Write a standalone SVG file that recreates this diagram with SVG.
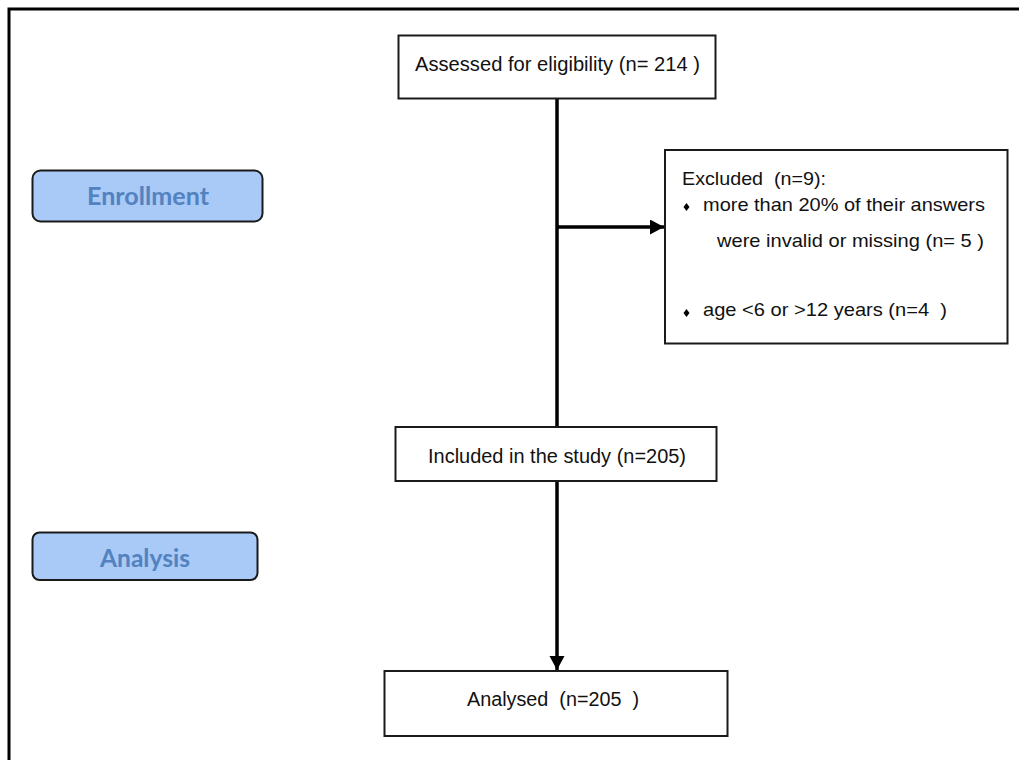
<svg xmlns="http://www.w3.org/2000/svg" width="1019" height="760" viewBox="0 0 1019 760">
  <defs>
    <style>
      .box { fill: #ffffff; stroke: #1a1a1a; stroke-width: 2; }
      .stage { fill: #a9c9f7; stroke: #1a1a1a; stroke-width: 2; }
      .t { font-family: "Liberation Sans", Arial, sans-serif; fill: #111111; }
      .st { font-family: Lato, "Open Sans", sans-serif; font-weight: bold; font-size: 24px; fill: #5282bf; text-anchor: middle; }
      .conn { fill: none; stroke: #000000; stroke-width: 3.5; }
      .bul { fill: #000000; }
    </style>
    <marker id="arrow" markerUnits="userSpaceOnUse" markerWidth="16" markerHeight="16" refX="14" refY="7.5" orient="auto">
      <path d="M0,0 L14,7.5 L0,15 Z" fill="#000000"/>
    </marker>
  </defs>
  <rect width="1019" height="760" fill="#ffffff"/>
  <path d="M9,760 V9 H1019" fill="none" stroke="#000000" stroke-width="3"/>

  <g id="enrollment">
    <rect class="stage" x="32.5" y="170.5" width="230" height="51" rx="8"/>
    <text class="st" x="148" y="204.5" textLength="122" lengthAdjust="spacingAndGlyphs">Enrollment</text>
  </g>

  <g id="analysis">
    <rect class="stage" x="32.5" y="532.5" width="225" height="47.5" rx="7"/>
    <text class="st" x="145" y="567" textLength="90" lengthAdjust="spacingAndGlyphs">Analysis</text>
  </g>

  <g id="connectors">
    <line class="conn" x1="557" y1="98" x2="557" y2="427"/>
    <line class="conn" x1="557" y1="227" x2="664" y2="227" marker-end="url(#arrow)"/>
    <line class="conn" x1="557" y1="481" x2="557" y2="670" marker-end="url(#arrow)"/>
  </g>

  <g id="assessed">
    <rect class="box" x="398.5" y="35.5" width="317" height="63"/>
    <text class="t" x="415" y="71" font-size="19.5" textLength="285" lengthAdjust="spacingAndGlyphs">Assessed for eligibility (n= 214 )</text>
  </g>

  <g id="excluded">
    <rect class="box" x="665" y="150" width="342.5" height="193.5"/>
    <text class="t" x="682" y="185" font-size="19" xml:space="preserve" textLength="144" lengthAdjust="spacingAndGlyphs">Excluded  (n=9):</text>
    <polygon class="bul" points="686.5,203 689.5,207 686.5,211 683.5,207"/>
    <text class="t" x="703" y="211" font-size="19" textLength="282" lengthAdjust="spacingAndGlyphs">more than 20% of their answers</text>
    <text class="t" x="717" y="247" font-size="19" textLength="267" lengthAdjust="spacingAndGlyphs">were invalid or missing (n= 5 )</text>
    <polygon class="bul" points="686.5,309 689.5,313 686.5,317 683.5,313"/>
    <text class="t" x="703" y="316" font-size="19" xml:space="preserve" textLength="244" lengthAdjust="spacingAndGlyphs">age &lt;6 or &gt;12 years (n=4  )</text>
  </g>

  <g id="included">
    <rect class="box" x="395.5" y="427" width="321" height="54"/>
    <text class="t" x="428" y="463" font-size="20.5" textLength="258" lengthAdjust="spacingAndGlyphs">Included in the study (n=205)</text>
  </g>

  <g id="analysed">
    <rect class="box" x="384.5" y="671" width="343" height="65"/>
    <text class="t" x="467" y="706" font-size="20" xml:space="preserve" textLength="172" lengthAdjust="spacingAndGlyphs">Analysed  (n=205  )</text>
  </g>
</svg>
